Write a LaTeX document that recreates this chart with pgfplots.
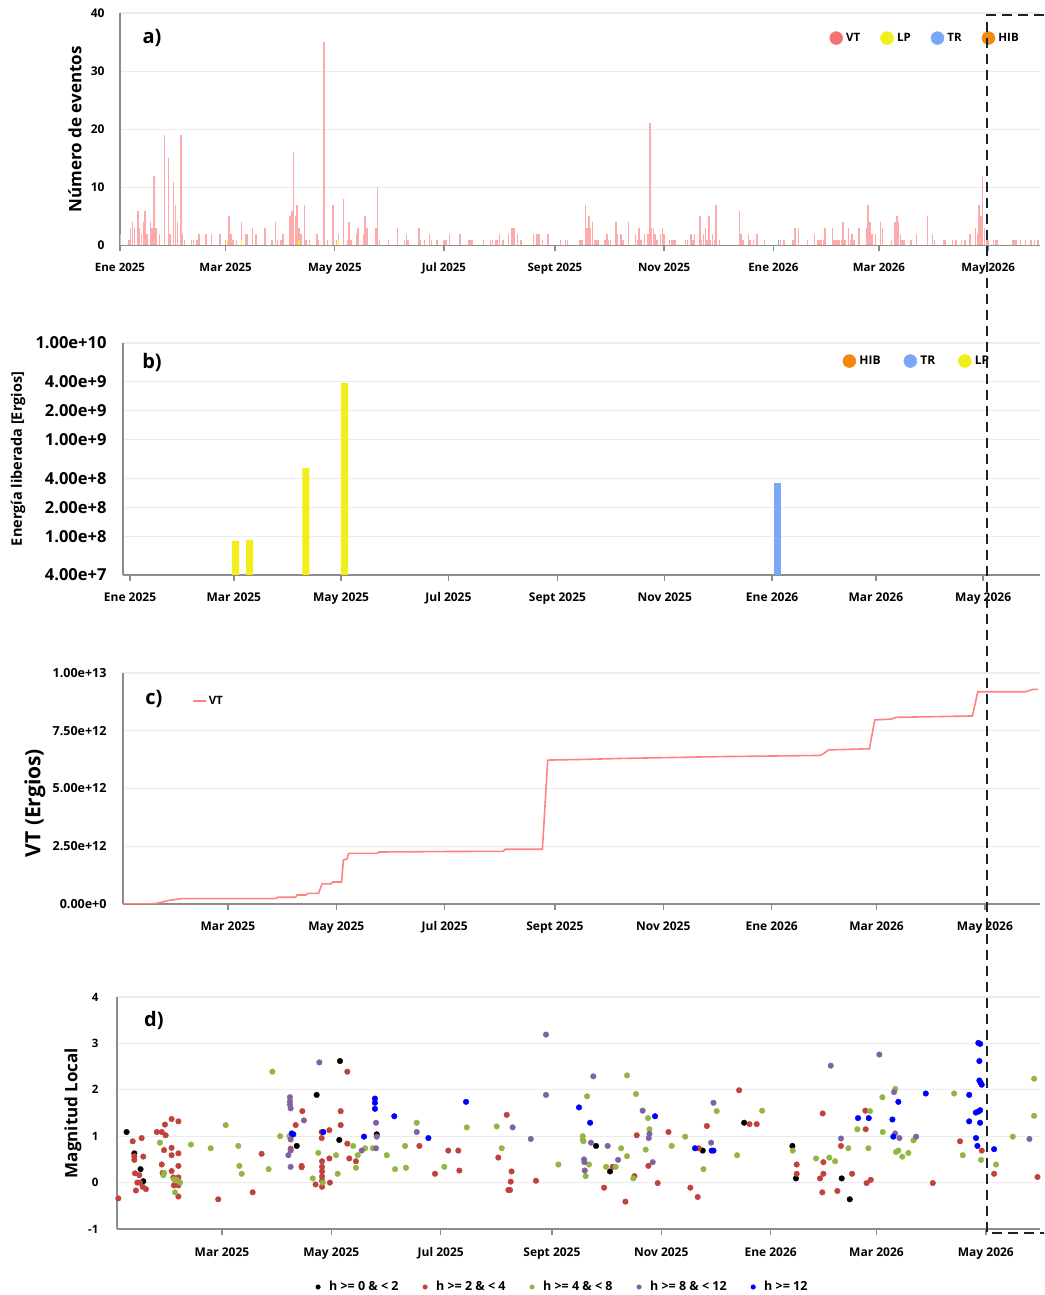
\documentclass[border=0pt]{standalone}
\usepackage{pgfplots}
\pgfplotsset{compat=1.18}
\usepackage{pgfplotstable}
\usepackage{fontspec}
\setmainfont{Open Sans}
\definecolor{vtbar}{RGB}{255,170,170}
\definecolor{vtline}{RGB}{255,130,130}
\definecolor{vtc}{RGB}{244,114,114}
\definecolor{lpc}{RGB}{242,238,25}
\definecolor{trc}{RGB}{122,167,247}
\definecolor{hibc}{RGB}{245,135,15}
\definecolor{axgray}{RGB}{140,140,140}
\definecolor{gridgray}{RGB}{236,236,236}
\definecolor{dred}{RGB}{192,66,60}
\definecolor{dgreen}{RGB}{145,182,66}
\definecolor{dpurple}{RGB}{128,98,162}
\definecolor{dblue}{RGB}{0,0,250}
\definecolor{boxc}{RGB}{20,38,52}

\pgfplotstableread{
day n
0 2
5 1
6 3
7 4
8 3
10 6
11 3
12 2
13 4
14 6
15 2
17 4
18 3
19 12
20 3
22 2
25 19
27 15
28 2
30 11
31 7
32 4
34 19
35 2
36 1
40 1
41 1
43 1
44 2
48 2
51 2
56 2
59 1
61 5
62 2
63 1
65 1
68 4
70 2
71 2
74 3
76 2
81 3
85 1
87 4
88 1
90 1
91 2
95 5
96 6
97 16
98 5
99 7
100 3
101 2
103 7
104 1
106 1
110 2
111 1
114 35
116 1
119 7
121 1
122 2
125 8
127 1
128 4
129 1
132 2
133 3
136 2
137 5
138 3
143 3
144 10
145 1
150 1
155 3
159 1
160 2
161 1
167 3
168 1
170 1
173 2
174 1
177 1
181 1
182 1
184 2
190 2
195 1
196 1
197 1
203 1
207 1
208 1
210 1
211 1
212 2
214 1
217 2
219 3
220 3
222 2
224 1
231 2
233 2
234 2
236 1
239 2
246 1
249 1
250 1
257 1
258 1
260 7
261 3
262 5
263 3
264 4
265 1
266 1
267 1
271 1
272 2
273 1
274 1
277 4
278 2
280 2
281 1
284 4
288 2
289 1
290 3
291 1
293 2
295 2
296 21
297 3
298 3
299 2
300 1
302 2
303 3
304 2
307 1
308 1
309 1
310 1
316 1
317 1
319 2
320 1
321 2
324 5
325 1
326 2
327 3
328 1
329 5
330 1
331 2
332 1
333 7
335 1
346 6
347 2
348 1
351 2
352 1
354 1
356 2
360 1
369 1
371 1
376 1
377 3
379 3
384 1
388 2
390 1
391 1
392 1
393 1
394 3
398 3
399 1
400 1
401 1
402 1
403 1
404 4
405 1
407 3
408 1
409 2
410 1
413 3
417 3
418 7
419 4
420 2
422 2
425 4
426 3
431 1
433 4
434 5
435 4
436 2
437 1
438 1
442 1
445 2
451 5
454 2
455 1
460 1
461 1
465 1
467 1
470 1
472 1
475 2
478 3
479 2
480 7
481 5
482 12
483 3
484 1
485 1
488 1
489 1
490 1
499 1
500 1
501 1
503 1
506 1
509 1
511 1
513 1
}\vtcounts

\pgfplotstableread{
day e
0 0
15 0
19 3e10
24 1.2e11
27 1.7e11
33 2.3e11
86 2.3e11
87 2.9e11
97 2.9e11
98 3.9e11
103 3.9e11
104 4.6e11
110 4.6e11
112 8.7e11
117 8.7e11
118 9.5e11
123 9.5e11
124 1.9e12
126 1.95e12
127 2.19e12
143 2.19e12
144 2.25e12
180 2.27e12
214 2.28e12
215 2.37e12
236 2.37e12
239 6.23e12
260 6.26e12
280 6.30e12
336 6.38e12
392 6.43e12
394 6.50e12
397 6.67e12
420 6.72e12
423 7.97e12
432 8.00e12
435 8.08e12
478 8.14e12
481 9.19e12
508 9.19e12
512 9.29e12
515 9.29e12
}\vtcum

\pgfplotsset{
 base/.style={scale only axis, anchor=south west,
   axis x line*=bottom, axis y line*=left,
   axis line style={draw=axgray, line width=1.6pt, -},
   xtick style={draw=axgray, line width=1.4pt},
   ytick style={draw=none},
   tick align=outside, major tick length=6pt,
   ymajorgrids, grid style={draw=gridgray, line width=1.2pt},
   legend cell align=left,
 },
 datex/.style={xtick={0,59,120,181,243,304,365,424,485},
   xticklabels={Ene 2025,Mar 2025,May 2025,Jul 2025,Sept 2025,Nov 2025,Ene 2026,Mar 2026,May 2026}},
 datex2/.style={xtick={59,120,181,243,304,365,424,485},
   xticklabels={Mar 2025,May 2025,Jul 2025,Sept 2025,Nov 2025,Ene 2026,Mar 2026,May 2026}},
}

\begin{document}
\begin{tikzpicture}
\useasboundingbox (0pt,0pt) rectangle (1044pt,1295pt);

% ---------------- a)
\begin{axis}[base, datex, at={(120pt,1049.5pt)}, width=920pt, height=232.5pt,
  xmin=0, xmax=514, ymin=0, ymax=40,
  ytick={0,10,20,30,40}, yticklabels={0,10,20,30,40},
  xticklabel style={font=\bfseries\fontsize{11.5}{12}\selectfont, yshift=-8pt},
  yticklabel style={font=\bfseries\fontsize{12}{12}\selectfont, xshift=-6pt},
  ylabel={Número de eventos},
  every axis y label/.style={at={(axis description cs:-0.049,0.5)}, rotate=90, anchor=center, font=\bfseries\fontsize{17}{17}\selectfont},
  legend image code/.code={\fill[#1] (0pt,0pt) circle (6.5pt); \path[draw=none,fill=none] (0pt,0pt) -- (8pt,0pt);},
  legend style={draw=none, fill=none, legend columns=-1, at={(0.771,0.892)}, anchor=west, inner sep=0pt,
    font=\bfseries\fontsize{11.5}{11.5}\selectfont, /tikz/every even column/.append style={column sep=18pt}},
]
\addplot[ycomb, draw=vtbar, line width=1.5pt, forget plot] table[x=day,y=n] {\vtcounts};
\addplot[ycomb, draw=lpc, line width=1.5pt, forget plot] coordinates {(60,1) (68,1) (100,1) (122,1)};
\addplot[ycomb, draw=trc, line width=1.5pt, forget plot] coordinates {(368,1)};
\addlegendimage{vtc}\addlegendentry{VT}
\addlegendimage{lpc}\addlegendentry{LP}
\addlegendimage{trc}\addlegendentry{TR}
\addlegendimage{hibc}\addlegendentry{HIB}
\node[font=\bfseries\fontsize{20}{20}\selectfont] at (rel axis cs:0.0348,0.8925) {a)};
\end{axis}

% ---------------- b)
\begin{axis}[base, datex, at={(123pt,720pt)}, width=917pt, height=232pt,
  xmin=-4, xmax=517.3, ymode=log, ymin=4e7, ymax=1e10, yminorticks=false,
  ytick={4e7,1e8,2e8,4e8,1e9,2e9,4e9,1e10},
  yticklabels={4.00e+7,1.00e+8,2.00e+8,4.00e+8,1.00e+9,2.00e+9,4.00e+9,1.00e+10},
  xticklabel style={font=\bfseries\fontsize{12}{12}\selectfont, yshift=-8pt},
  yticklabel style={font=\bfseries\fontsize{16.5}{17}\selectfont, xshift=-7pt},
  ylabel={Energía liberada [Ergios]},
  every axis y label/.style={at={(axis description cs:-0.1145,0.5)}, rotate=90, anchor=center, font=\bfseries\fontsize{14.5}{15}\selectfont},
  legend image code/.code={\fill[#1] (0pt,0pt) circle (6.5pt); \path[draw=none,fill=none] (0pt,0pt) -- (8pt,0pt);},
  legend style={draw=none, fill=none, legend columns=-1, at={(0.7846,0.922)}, anchor=west, inner sep=0pt,
    font=\bfseries\fontsize{12}{12}\selectfont, /tikz/every even column/.append style={column sep=21pt}},
]
\addplot[ybar, bar width=7pt, bar shift=0pt, fill=lpc, draw=none, forget plot] coordinates {(60,9.0e7) (68,9.2e7) (100,5.1e8) (122,3.86e9)};
\addplot[ybar, bar width=7pt, bar shift=0pt, fill=trc, draw=none, forget plot] coordinates {(368,3.56e8)};
\addlegendimage{hibc}\addlegendentry{HIB}
\addlegendimage{trc}\addlegendentry{TR}
\addlegendimage{lpc}\addlegendentry{LP}
\node[font=\bfseries\fontsize{20}{20}\selectfont] at (rel axis cs:0.0316,0.918) {b)};
\end{axis}

% ---------------- c)
\begin{axis}[base, datex2, at={(123pt,391pt)}, width=917pt, height=231pt,
  xmin=0, xmax=516, ymin=0, ymax=1e13, scaled y ticks=false,
  ytick={0,2.5e12,5e12,7.5e12,1e13},
  yticklabels={0.00e+0,2.50e+12,5.00e+12,7.50e+12,1.00e+13},
  xticklabel style={font=\bfseries\fontsize{12}{12}\selectfont, yshift=-8pt},
  yticklabel style={font=\bfseries\fontsize{12.5}{13}\selectfont, xshift=-7pt},
  ylabel={VT (Ergios)},
  every axis y label/.style={at={(axis description cs:-0.096,0.437)}, rotate=90, anchor=center, font=\bfseries\fontsize{21}{21}\selectfont},
  legend image code/.code={\draw[#1] (0pt,0pt) -- (13pt,0pt);},
  legend style={draw=none, fill=none, legend columns=-1, at={(0.0752,0.879)}, anchor=west, inner sep=0pt,
    font=\bfseries\fontsize{11.5}{11.5}\selectfont},
]
\addplot[draw=vtline, line width=1.6pt] table[x=day,y=e] {\vtcum};
\addlegendentry{VT}
\node[font=\bfseries\fontsize{20}{20}\selectfont] at (rel axis cs:0.0338,0.887) {c)};
\end{axis}

% ---------------- d)
\begin{axis}[base, datex2, at={(117pt,66pt)}, width=923pt, height=232pt,
  xmin=0.45, xmax=515.2, ymin=-1, ymax=4,
  ytick={-1,0,1,2,3,4}, yticklabels={-1,0,1,2,3,4},
  xticklabel style={font=\bfseries\fontsize{12}{12}\selectfont, yshift=-9pt},
  yticklabel style={font=\bfseries\fontsize{11.5}{12}\selectfont, xshift=-9pt},
  ylabel={Magnitud Local},
  every axis y label/.style={at={(axis description cs:-0.0477,0.5)}, rotate=90, anchor=center, font=\bfseries\fontsize{17}{17}\selectfont},
  legend image code/.code={\fill[#1] (0pt,0pt) circle (2.3pt); \path[draw=none,fill=none] (0pt,0pt) -- (9pt,0pt);},
  legend style={draw=none, fill=none, legend columns=-1, at={(0.2149,-0.25)}, anchor=west, inner sep=0pt,
    font=\bfseries\fontsize{12.5}{12.5}\selectfont, /tikz/every even column/.append style={column sep=22pt}},
]
\addplot[only marks, mark=*, mark size=2.8pt, color=black, forget plot] coordinates {
(5.8,1.09)(10.1,0.63)(13.6,0.29)(15.1,0.03)(100.7,0.79)(111.8,1.89)(124.8,2.62)(124.4,0.92)(145.3,1.04)
(267.6,0.79)(275.4,0.24)(327.1,0.69)(350.2,1.29)(377.1,0.79)(379.1,0.09)(404.6,0.09)(409.1,-0.36)};
\addplot[only marks, mark=*, mark size=2.8pt, color=dred, forget plot] coordinates {
(1.2,-0.34)(9.2,0.89)(10.1,0.57)(10.1,0.49)(10.5,0.2)(11.0,-0.17)(11.8,0.0)(12.9,0.16)(13.3,0.0)(14.2,0.96)
(14.8,-0.09)(15.1,0.56)(16.6,-0.14)(22.6,1.09)(25.4,1.09)(25.4,0.39)(25.9,0.21)(26.7,0.7)(27.2,1.25)(27.6,1.02)
(30.9,1.37)(30.9,0.75)(30.9,0.25)(30.9,0.59)(31.9,0.11)(32.2,-0.06)(34.7,1.32)(34.7,0.63)(34.7,0.36)(34.7,0.11)
(34.7,-0.06)(34.7,-0.3)(56.9,-0.36)(76.1,-0.21)(81.1,0.62)(97.3,0.73)(100.1,1.24)(103.4,0.36)(103.4,0.33)(103.8,1.54)
(111.2,-0.04)(114.6,1.09)(114.6,0.96)(114.8,0.46)(114.8,0.34)(114.8,0.24)(114.8,0.13)(114.8,0.04)(114.8,-0.09)
(118.9,1.13)(118.9,0.52)(119.2,0.0)(125.2,1.54)(125.2,1.24)(128.9,2.39)(128.9,0.84)(130,0.52)(133.7,0.46)
(169.1,0.79)(177.8,0.19)(185.2,0.69)(190.8,0.69)(191.4,0.26)(213.1,0.54)(217.8,1.46)(218.7,-0.16)(219.6,-0.16)
(220.0,0.02)(220.5,0.24)
(234.1,0.04)(272.1,-0.11)(276.9,0.34)(284.0,-0.41)(289.0,0.14)(290.3,1.02)(296.8,0.36)(302.0,-0.01)(308.0,1.09)
(320.2,-0.11)(324.3,-0.31)(324.9,0.74)(329.4,1.22)(347.4,1.99)(353.2,1.26)(357.2,1.26)(379.5,0.39)(379.5,0.19)
(392.5,0.09)(393.8,-0.21)(394.0,1.49)(394.4,0.44)(394.4,0.19)(402.2,-0.18)(404.2,0.79)(410.4,0.19)(417.8,1.55)
(418.0,1.15)(418.5,-0.01)(420.8,0.06)(455.4,-0.01)(470.6,0.89)(482.7,0.69)(489.6,0.19)(513.8,0.12)};
\addplot[only marks, mark=*, mark size=2.8pt, color=dgreen, forget plot] coordinates {
(24.4,0.86)(26.3,0.16)(26.8,0.21)(32.2,0.07)(32.8,-0.21)(33.7,0.06)(35.6,0.0)(41.7,0.82)(52.7,0.74)(61.1,1.24)
(68.1,0.79)(68.7,0.36)(70.0,0.19)(85.0,0.29)(87.1,2.39)(91.4,1.0)(96.6,1.0)(109.6,0.09)(112.7,0.64)(115.2,0.0)
(122.6,0.59)(123.5,0.19)(132.2,0.79)(133.7,0.32)(134.7,0.59)(138.8,0.74)(143.1,0.74)(150.9,0.59)(155.5,0.29)
(161.1,0.79)(161.6,0.32)(167.6,1.29)(183.0,0.34)(195.5,1.19)(212.2,1.21)(215.0,0.74)
(246.6,0.39)(260.2,1.0)(260.2,0.93)(260.6,0.89)(261.8,0.14)(262.6,1.86)(263.7,0.39)(273.2,0.34)(278.6,0.34)
(281.6,0.74)(284.9,2.31)(284.9,0.57)(288.4,0.09)(289.9,1.91)(295.3,0.71)(296.6,1.39)(297.4,1.15)(309.8,0.79)
(317.3,0.99)(327.5,0.29)(334.9,1.54)(346.3,0.59)(360.2,1.55)(377.3,0.69)(390.3,0.52)(397.7,0.54)(400.9,0.46)
(408.3,0.74)(413.3,1.15)(419.5,0.74)(420.4,1.54)(427.3,1.84)(427.5,1.09)(434.5,2.02)(434.9,0.66)(436.2,0.69)
(438.4,0.56)(441.8,0.64)(444.6,0.91)(467.3,1.92)(472.1,0.59)(482.3,0.49)(490.7,0.39)(500,0.99)(511.9,2.24)(511.9,1.44)};
\addplot[only marks, mark=*, mark size=2.8pt, color=dpurple, forget plot] coordinates {
(96,0.59)(96.9,1.84)(96.9,1.75)(96.9,1.68)(97.3,1.6)(97.3,0.93)(97.3,0.69)(97.3,0.34)(104.7,1.34)(113.3,2.59)
(136.9,0.69)(144.9,1.29)(145.3,0.99)(144.9,0.74)(167.6,1.09)(221.1,1.19)
(231.2,0.94)(239.7,3.19)(239.7,1.89)(260.9,0.5)(261.1,0.44)(261.3,0.26)(264.8,0.86)(266.1,2.29)(274.1,0.79)
(279.9,0.49)(293.6,1.55)(297.4,1.05)(297.0,0.96)(299.2,0.44)(331.8,0.86)(333.1,1.72)(398.5,2.52)(404.2,0.95)
(425.6,2.76)(433.8,1.95)(434.4,1.06)(436.8,0.96)(446.1,0.99)(509.3,0.94)};
\addplot[only marks, mark=*, mark size=2.8pt, color=dblue, forget plot] coordinates {
(97.9,1.06)(98.8,1.04)(115.5,1.09)(138.2,0.99)(144.3,1.81)(144.3,1.72)(144.3,1.59)(155.1,1.43)(174.1,0.96)(195.1,1.74)
(258.1,1.62)(264.3,1.29)(300.5,1.43)(322.8,0.74)(332.1,0.69)(333.1,0.69)(413.7,1.39)(419.7,1.39)(432.9,1.36)
(433.4,0.99)(436.2,1.74)(451.5,1.92)(475.7,1.89)(475.7,1.32)(479.4,1.51)(479.5,0.96)(480.3,0.79)(480.8,3.01)
(481.8,2.99)(481.4,2.62)(481.4,2.2)(482.1,2.15)(482.7,2.11)(480.8,1.53)(481.8,1.56)(481.8,1.29)(489.6,0.72)};
\addlegendimage{black}\addlegendentry{h >= 0 \& < 2}
\addlegendimage{dred}\addlegendentry{h >= 2 \& < 4}
\addlegendimage{dgreen}\addlegendentry{h >= 4 \& < 8}
\addlegendimage{dpurple}\addlegendentry{h >= 8 \& < 12}
\addlegendimage{dblue}\addlegendentry{h >= 12}
\node[font=\bfseries\fontsize{20}{20}\selectfont] at (rel axis cs:0.04,0.897) {d)};
\end{axis}

\begin{scope}
\clip (0pt,0pt) rectangle (1044pt,1295pt);
\draw[boxc, line width=2.8pt, dash pattern=on 10pt off 6pt] (1060pt,1280pt) -- (987pt,1280pt) -- (987pt,62pt) -- (1060pt,62pt);
\end{scope}
\end{tikzpicture}
\end{document}
